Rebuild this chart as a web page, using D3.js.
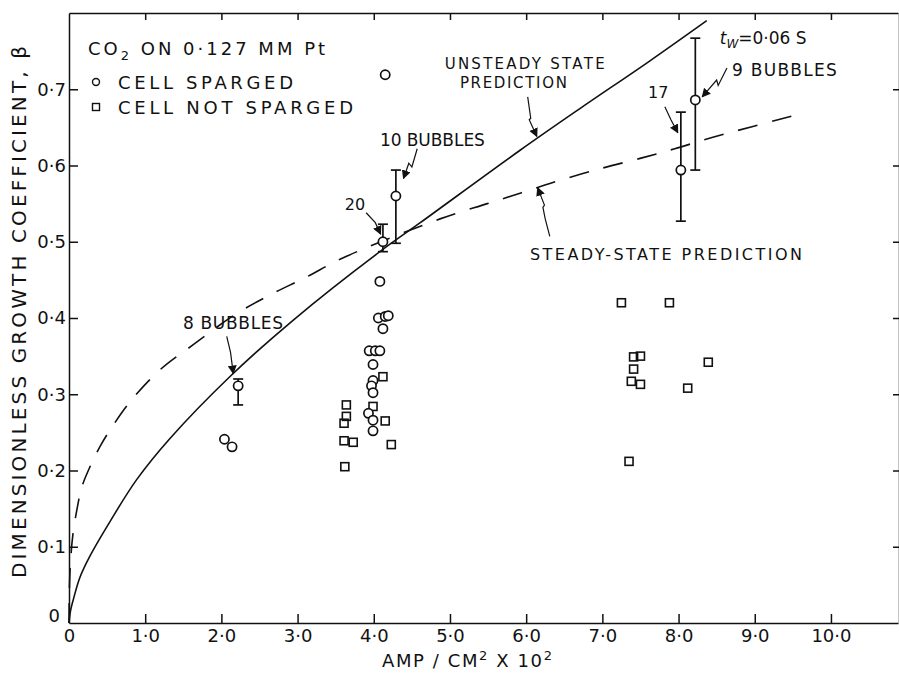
<!DOCTYPE html>
<html>
<head>
<meta charset="utf-8">
<script src="https://cdn.jsdelivr.net/npm/d3@7"></script>
<style>
  html, body { margin: 0; padding: 0; background: #fff; }
  svg { display: block; }
  text { font-family: "DejaVu Sans", sans-serif; fill: #111; }
</style>
</head>
<body>
<svg id="chart" width="899" height="673"></svg>
<script>
// ---------------- data ----------------
const xTickValues = [0, 1, 2, 3, 4, 5, 6, 7, 8, 9, 10];
const xTickLabels = ["0", "1·0", "2·0", "3·0", "4·0", "5·0", "6·0", "7·0", "8·0", "9·0", "10·0"];
const yTickValues = [0, 0.1, 0.2, 0.3, 0.4, 0.5, 0.6, 0.7];
const yTickLabels = ["0", "0·1", "0·2", "0·3", "0·4", "0·5", "0·6", "0·7"];

// unsteady-state prediction (solid)
const unsteadyX = [0, 0.02, 0.06, 0.144, 0.276, 0.538, 0.888, 1.325, 2.11, 2.94, 4.08, 4.61, 5.92, 6.71, 7.62, 8.37];
const unsteadyB = [0, 0.016, 0.032, 0.060, 0.088, 0.133, 0.188, 0.242, 0.323, 0.397, 0.487, 0.525, 0.620, 0.675, 0.737, 0.790];

// steady-state prediction (dashed)
const steadyX = [0, 0.005, 0.02, 0.05, 0.11, 0.167, 0.276, 0.41, 0.538, 0.80, 1.194, 1.631, 2.156, 2.594, 3.12, 3.60, 4.87, 5.49, 5.93, 6.36, 6.98, 7.52, 7.95, 8.45, 9.61];
const steadyB = [0, 0.045, 0.080, 0.115, 0.152, 0.178, 0.205, 0.232, 0.253, 0.290, 0.332, 0.365, 0.403, 0.428, 0.454, 0.479, 0.530, 0.550, 0.564, 0.578, 0.596, 0.610, 0.622, 0.637, 0.668];

// cell sparged (circles)
const spargedX = [2.04, 2.14, 4.15, 4.08, 4.06, 4.15, 4.19, 4.12, 3.94, 4.02, 4.08, 3.99, 3.99, 3.97, 3.99, 3.93, 3.99, 3.99];
const spargedB = [0.241, 0.231, 0.719, 0.448, 0.400, 0.402, 0.403, 0.386, 0.357, 0.357, 0.357, 0.339, 0.318, 0.311, 0.302, 0.275, 0.266, 0.252];

// cell sparged, averaged with error bars
const errX    = [2.22, 4.12, 4.29, 8.03, 8.22];
const errB    = [0.311, 0.500, 0.560, 0.594, 0.686];
const errLow  = [0.286, 0.487, 0.498, 0.527, 0.594];
const errHigh = [0.320, 0.523, 0.594, 0.670, 0.767];

// cell not sparged (squares)
const notSpargedX = [4.12, 3.64, 3.64, 3.61, 3.99, 4.15, 3.61, 3.73, 4.23, 3.62,
                     7.25, 7.88, 7.41, 7.50, 7.41, 7.38, 7.50, 8.39, 8.12, 7.35];
const notSpargedB = [0.323, 0.286, 0.271, 0.262, 0.284, 0.265, 0.239, 0.237, 0.234, 0.205,
                     0.420, 0.420, 0.349, 0.350, 0.333, 0.317, 0.313, 0.342, 0.308, 0.212];

// ---------------- layout ----------------
const svg = d3.select("#chart");
const x = d3.scaleLinear().domain([0, 10.88]).range([69, 898]);
const y = d3.scaleLinear().domain([0, 0.8]).range([623, 13]);
const ink = "#111";

const axisStyle = g => {
  g.selectAll("path, line").attr("stroke", ink).attr("stroke-width", 1.5);
  g.selectAll("text").style("font-size", "18px").attr("fill", ink);
};

svg.append("g").attr("transform", "translate(0,623)")
  .call(d3.axisBottom(x).tickValues(xTickValues).tickFormat((d, i) => xTickLabels[i])
    .tickSizeInner(-9).tickSizeOuter(0).tickPadding(6))
  .call(axisStyle)
  .call(g => g.selectAll(".tick").filter(d => d === 0).select("line").remove());

svg.append("g").attr("transform", "translate(69,0)")
  .call(d3.axisLeft(y).tickValues(yTickValues).tickFormat((d, i) => yTickLabels[i])
    .tickSizeInner(-9).tickSizeOuter(0).tickPadding(3))
  .call(axisStyle)
  .call(g => g.selectAll(".tick").filter(d => d === 0).select("line").remove())
  .call(g => g.selectAll(".tick").filter(d => d === 0).select("text").attr("dy", "-0.1em").attr("x", -9));

svg.append("g").attr("transform", "translate(0,13)")
  .call(d3.axisTop(x).tickValues(xTickValues.slice(1)).tickFormat("")
    .tickSizeInner(-7).tickSizeOuter(0))
  .call(axisStyle);

svg.append("g").attr("transform", "translate(899,0)")
  .call(d3.axisRight(y).tickValues(yTickValues.slice(1)).tickFormat("")
    .tickSizeInner(-6).tickSizeOuter(0))
  .call(axisStyle);

// axis titles
svg.append("text")
  .attr("transform", "translate(26,312) rotate(-90)")
  .attr("text-anchor", "middle")
  .attr("textLength", 532).attr("lengthAdjust", "spacing")
  .style("font-size", "20px")
  .text("DIMENSIONLESS GROWTH COEFFICIENT, β");

const xt = svg.append("text").attr("x", 382).attr("y", 667)
  .style("font-size", "18px").style("letter-spacing", "1.6px");
xt.append("tspan").text("AMP / CM");
xt.append("tspan").attr("dy", -7).style("font-size", "13px").text("2");
xt.append("tspan").attr("dy", 7).text(" X 10");
xt.append("tspan").attr("dy", -7).style("font-size", "13px").text("2");

// curves
const line = d3.line().x(d => x(d[0])).y(d => y(d[1])).curve(d3.curveCatmullRom.alpha(0.5));
svg.append("path")
  .datum(unsteadyX.map((v, i) => [v, unsteadyB[i]]))
  .attr("d", line).attr("fill", "none").attr("stroke", ink).attr("stroke-width", 1.6);
svg.append("path")
  .datum(steadyX.map((v, i) => [v, steadyB[i]]))
  .attr("d", line).attr("fill", "none").attr("stroke", ink).attr("stroke-width", 1.6)
  .attr("stroke-dasharray", "20,15");

// error bars
const errG = svg.append("g").attr("stroke", ink).attr("stroke-width", 1.7);
errX.forEach((v, i) => {
  const cx = x(v);
  errG.append("line").attr("x1", cx).attr("x2", cx).attr("y1", y(errLow[i])).attr("y2", y(errHigh[i]));
  errG.append("line").attr("x1", cx - 5).attr("x2", cx + 5).attr("y1", y(errLow[i])).attr("y2", y(errLow[i]));
  errG.append("line").attr("x1", cx - 5).attr("x2", cx + 5).attr("y1", y(errHigh[i])).attr("y2", y(errHigh[i]));
});

// markers
svg.append("g").selectAll("rect")
  .data(notSpargedX.map((v, i) => [v, notSpargedB[i]]))
  .join("rect")
  .attr("x", d => x(d[0]) - 4).attr("y", d => y(d[1]) - 4)
  .attr("width", 8).attr("height", 8)
  .attr("fill", "none").attr("stroke", ink).attr("stroke-width", 1.6);

svg.append("g").selectAll("circle")
  .data(spargedX.map((v, i) => [v, spargedB[i]]).concat(errX.map((v, i) => [v, errB[i]])))
  .join("circle")
  .attr("cx", d => x(d[0])).attr("cy", d => y(d[1])).attr("r", 4.6)
  .attr("fill", "#fff").attr("stroke", ink).attr("stroke-width", 1.7);

// legend
const leg = svg.append("g");
const t1 = leg.append("text").attr("x", 88).attr("y", 55).style("font-size", "18px").style("letter-spacing", "3px");
t1.append("tspan").text("CO");
t1.append("tspan").attr("dy", 5).style("font-size", "13px").text("2");
t1.append("tspan").attr("dy", -5).text(" ON 0·127 MM Pt");
leg.append("circle").attr("cx", 96).attr("cy", 82).attr("r", 3.5)
  .attr("fill", "none").attr("stroke", ink).attr("stroke-width", 1.4);
leg.append("text").attr("x", 118).attr("y", 89).style("font-size", "18px")
  .attr("textLength", 175).attr("lengthAdjust", "spacing").text("CELL SPARGED");
leg.append("rect").attr("x", 92.5).attr("y", 103.5).attr("width", 7).attr("height", 7)
  .attr("fill", "none").attr("stroke", ink).attr("stroke-width", 1.4);
leg.append("text").attr("x", 118).attr("y", 114).style("font-size", "18px")
  .attr("textLength", 235).attr("lengthAdjust", "spacing").text("CELL NOT SPARGED");

// annotations (anchored in data units)
const notes = [
  { text: "8 BUBBLES", at: [1.496, 0.386], len: 100, size: 17 },
  { text: "10 BUBBLES", at: [4.08, 0.625], len: 105, size: 17 },
  { text: "20", at: [3.62, 0.542], len: null, size: 16 },
  { text: "UNSTEADY STATE", at: [4.93, 0.726], len: 160, size: 15 },
  { text: "PREDICTION", at: [5.13, 0.702], len: 107, size: 15 },
  { text: "STEADY-STATE PREDICTION", at: [6.05, 0.476], len: 272, size: 16 },
  { text: "17", at: [7.60, 0.689], len: null, size: 16 },
  { text: "9 BUBBLES", at: [8.70, 0.718], len: 105, size: 17 }
];
svg.append("g").selectAll("text").data(notes).join("text")
  .attr("x", d => x(d.at[0])).attr("y", d => y(d.at[1]))
  .attr("textLength", d => d.len).attr("lengthAdjust", d => d.len ? "spacing" : null)
  .style("font-size", d => d.size + "px")
  .text(d => d.text);

const tw = svg.append("text").attr("x", x(8.54)).attr("y", y(0.760)).style("font-size", "17px");
tw.append("tspan").style("font-style", "italic").text("t");
tw.append("tspan").attr("dy", 4).style("font-size", "12px").style("font-style", "italic").text("W");
tw.append("tspan").attr("dy", -4).text("=0·06 S");

// leader arrows
svg.append("defs").append("marker")
  .attr("id", "ah").attr("viewBox", "0 0 10 10").attr("refX", 9).attr("refY", 5)
  .attr("markerWidth", 9).attr("markerHeight", 9).attr("markerUnits", "userSpaceOnUse")
  .attr("orient", "auto")
  .append("path").attr("d", "M0,0 L10,5 L0,10 z").attr("fill", ink);

const leaders = [
  [[2.07, 0.376], [2.12, 0.355], [2.156, 0.327]],
  [[4.57, 0.622], [4.50, 0.598], [4.46, 0.603], [4.39, 0.583]],
  [[3.90, 0.538], [4.02, 0.525], [4.09, 0.510]],
  [[6.02, 0.690], [6.06, 0.662], [6.04, 0.660], [6.14, 0.638]],
  [[6.31, 0.507], [6.25, 0.530], [6.22, 0.545], [6.24, 0.548], [6.15, 0.571]],
  [[7.82, 0.677], [7.90, 0.660], [7.99, 0.643]],
  [[8.635, 0.728], [8.52, 0.705], [8.50, 0.712], [8.31, 0.690]]
];
const lead = d3.line().x(d => x(d[0])).y(d => y(d[1]));
svg.append("g").selectAll("path").data(leaders).join("path")
  .attr("d", lead).attr("fill", "none").attr("stroke", ink).attr("stroke-width", 1.2)
  .attr("marker-end", "url(#ah)");
</script>
</body>
</html>
